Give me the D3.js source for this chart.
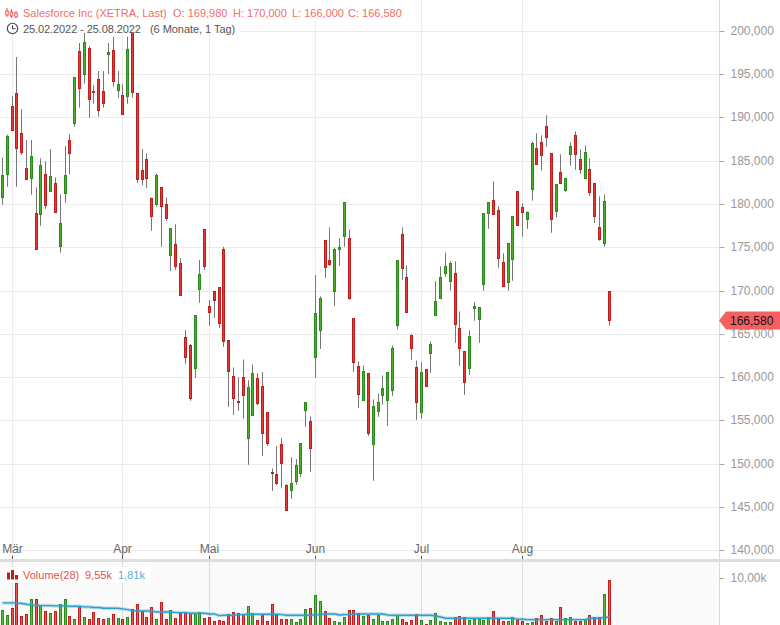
<!DOCTYPE html>
<html><head><meta charset="utf-8">
<script src="https://cdn.jsdelivr.net/npm/d3@7"></script>
<style>
html,body{margin:0;padding:0;background:#fff}
svg{display:block}
text{font-family:"Liberation Sans",Arial,sans-serif}
</style></head><body><svg id="c" width="780" height="625"></svg>
<script>
const open=[180.82,183.48,191.34,192.85,188.22,184.17,182.98,178.97,178.85,183.48,181.51,182.44,175.11,181.28,187.41,189.34,197.70,195.04,198.05,193.08,194.47,193.08,197.36,197.82,193.19,192.61,192.50,199.86,192.85,183.94,185.21,180.70,179.97,181.98,180.01,174.07,175.38,173.19,164.63,163.71,161.05,170.14,177.12,168.22,169.95,170.41,174.81,164.28,160.12,157.23,160.01,152.91,155.56,159.89,158.96,155.96,149.05,148.79,152.26,147.51,146.94,147.93,148.90,156.19,154.92,162.32,165.44,175.85,173.54,169.95,174.81,176.31,176.08,166.83,161.28,157.35,160.47,152.26,156.07,157.92,157.35,158.50,166.02,176.54,171.57,164.86,161.16,155.96,160.93,162.74,167.18,169.14,171.99,171.11,172.03,165.67,163.01,161.05,167.99,166.71,170.76,178.97,180.48,179.32,173.30,170.99,173.65,181.52,179.67,178.28,181.75,186.49,187.18,189.03,185.91,179.20,183.71,181.59,185.80,187.99,185.22,183.02,184.06,182.44,177.35,175.50,169.98];
const high=[185.44,188.07,192.54,197.05,191.03,187.45,187.45,181.98,185.33,184.98,186.41,183.13,181.17,186.75,188.10,194.70,198.67,200.17,198.32,193.81,195.43,195.43,198.67,199.40,195.43,193.89,199.40,199.86,192.85,186.41,185.91,180.82,183.59,181.98,180.82,177.23,177.73,173.80,165.48,163.86,167.18,173.57,177.12,168.94,169.95,170.41,175.11,164.28,161.16,160.01,162.09,159.69,161.51,160.50,160.62,155.96,149.48,152.06,152.99,147.67,150.79,150.56,152.37,157.11,155.50,171.84,169.37,175.85,177.35,175.04,176.08,180.24,177.12,166.83,161.86,161.39,160.47,157.46,158.15,160.24,160.58,163.71,173.54,177.35,172.96,164.98,161.97,161.74,160.93,164.17,171.14,172.84,174.46,173.42,173.42,167.64,163.01,165.44,168.71,168.10,178.97,180.24,182.67,179.78,174.35,175.50,178.62,181.52,180.13,179.20,187.30,188.22,187.99,190.31,185.91,182.33,185.80,183.02,187.18,188.46,186.37,186.84,185.33,182.44,180.94,181.17,170.00];
const low=[179.97,182.05,188.50,182.05,185.75,182.82,181.13,174.80,177.54,179.51,181.51,179.08,174.42,180.20,183.48,188.99,191.19,193.96,190.03,191.65,190.15,191.19,195.08,193.62,192.34,190.38,191.65,192.34,182.48,182.24,181.90,176.96,179.74,175.11,178.12,172.34,172.45,169.47,161.58,157.30,159.96,168.63,172.45,165.97,166.90,165.74,163.54,156.61,155.68,156.14,155.22,149.90,155.56,156.80,150.94,152.10,146.89,147.59,147.24,144.62,145.97,147.59,148.51,154.29,149.09,159.96,163.31,171.52,172.91,168.29,172.91,175.11,168.98,160.65,156.49,157.35,153.25,148.05,155.45,156.84,154.41,157.88,165.56,171.29,167.52,162.04,155.10,155.22,158.96,160.54,167.18,169.14,171.64,170.02,164.01,161.35,157.99,160.31,166.55,164.01,170.02,177.19,178.86,172.68,170.53,170.02,171.18,177.58,176.27,177.19,180.43,184.64,183.90,186.67,176.73,178.51,182.44,181.47,184.48,184.01,183.55,183.02,181.01,177.88,175.80,175.11,166.00];
const close=[183.36,187.87,188.57,186.49,185.98,182.90,185.56,174.80,184.52,179.85,183.25,179.08,177.81,183.36,185.91,194.70,193.42,198.74,192.15,192.92,190.88,191.65,197.59,194.23,193.89,190.38,197.93,192.92,182.86,182.86,183.02,178.58,183.36,179.74,178.35,177.23,172.80,169.47,162.32,157.53,167.18,171.92,172.80,167.48,168.86,166.20,164.12,160.65,157.53,157.07,157.88,158.85,160.47,156.95,153.48,152.33,148.86,147.70,150.01,144.62,147.75,149.83,152.37,157.11,151.79,167.41,169.14,172.68,173.07,174.81,175.04,180.24,169.14,161.74,158.04,160.70,153.48,156.65,157.11,158.73,160.58,163.36,173.54,172.61,167.52,163.36,157.11,160.58,158.96,163.82,168.79,171.57,172.84,173.19,166.13,163.31,159.38,164.75,168.22,168.10,178.97,180.24,178.86,173.77,170.53,175.50,178.62,177.58,179.09,179.09,187.07,184.64,185.68,187.76,178.28,182.33,182.44,183.02,186.72,185.80,184.06,186.03,181.40,178.62,175.96,180.36,166.58];
const volume=[2.99,2.07,3.56,8.91,1.85,2.28,5.49,5.49,4.06,2.92,2.35,2.92,4.42,5.49,1.85,1.21,3.92,1.64,1.21,2.71,1.43,1.21,1.43,2.28,1.43,1.07,1.64,3.35,4.42,2.92,1.64,3.78,1.21,4.85,1.21,3.14,1.43,2.49,2.71,2.49,2.49,2.71,1.43,1.64,0.78,1.00,0.78,2.28,2.71,2.49,2.28,3.99,2.49,1.00,2.14,0.78,4.42,2.07,1.21,1.21,1.21,0.57,1.21,3.35,3.56,6.34,5.06,2.92,1.43,0.78,0.57,1.64,3.14,3.14,2.49,1.85,2.07,1.21,2.07,0.78,0.78,1.21,2.07,1.21,0.57,1.00,2.28,1.00,0.14,1.00,2.49,0.78,0.57,0.57,1.64,1.85,1.64,1.00,1.21,1.21,1.00,1.64,2.92,1.21,0.78,0.78,1.64,1.00,0.78,0.36,0.57,1.43,2.07,0.78,1.43,0.78,3.78,1.43,1.64,0.78,0.78,1.21,2.07,1.64,1.64,6.56,9.55];
const volumeAvg=[4.70,4.70,4.70,4.70,4.56,4.42,4.28,4.21,4.13,4.13,4.13,4.06,4.06,4.06,3.99,3.99,3.99,3.85,3.85,3.71,3.71,3.56,3.56,3.56,3.56,3.42,3.28,3.06,2.99,2.99,2.99,2.99,2.78,2.78,2.78,2.78,2.64,2.64,2.64,2.49,2.49,2.49,2.49,2.35,2.35,2.00,2.07,2.07,2.07,2.21,2.21,2.28,2.28,2.28,2.28,2.28,2.28,2.28,2.21,2.07,2.07,2.07,2.07,2.07,2.07,2.21,2.21,2.35,2.35,2.35,2.14,2.21,2.21,2.35,2.35,2.35,2.35,2.35,2.35,2.35,2.14,2.07,2.07,2.07,2.07,2.07,2.07,2.07,2.07,2.07,1.92,1.71,1.43,1.43,1.43,1.43,1.43,1.43,1.43,1.43,1.43,1.43,1.43,1.43,1.43,1.43,1.43,1.21,1.21,1.14,1.14,1.14,1.14,1.14,1.14,1.14,1.14,1.14,1.14,1.14,1.14,1.14,1.43,1.43,1.43,1.57,1.71];
const priceTicks=[140,145,150,155,160,165,170,175,180,185,190,195,200];
const priceTickLabels=["140,000","145,000","150,000","155,000","160,000","165,000","170,000","175,000","180,000","185,000","190,000","195,000","200,000"];
const monthIdx=[2,25,43,65,87,108];
const monthLabels=["Mär","Apr","Mai","Jun","Jul","Aug"];
const volTicks=[10];
const volTickLabels=["10,00k"];
const lastPrice=166.58, lastLabel="166,580";

const svg=d3.select("#c");
const W=780,H=625,axisX=719.5;
const x=d3.scaleLinear().domain([0,126]).range([2.45,609.14]);
const px=i=>Math.floor(x(i))+.5;
const y=d3.scaleLinear().domain([140,200]).range([550.5,31.5]);
const v=d3.scaleLinear().domain([0,10]).range([625,578]);
const snap=a=>Math.round(a-.5)+.5;
const RED="#e53935",REDS="#bf1e1e",GRN="#4caf28",GRNS="#2a8a1e",WICK="#777";

// main grid
svg.append("g").selectAll("line").data(priceTicks).join("line")
 .attr("x1",0).attr("x2",axisX).attr("y1",d=>snap(y(d))).attr("y2",d=>snap(y(d))).attr("stroke","#ececec");
svg.append("g").selectAll("line").data(monthIdx).join("line")
 .attr("x1",px).attr("x2",px).attr("y1",0).attr("y2",559).attr("stroke","#ececec");

// candles
const idx=d3.range(open.length);
svg.append("g").selectAll("line").data(idx).join("line")
 .attr("x1",px).attr("x2",px).attr("y1",i=>y(high[i])).attr("y2",i=>y(low[i])).attr("stroke",WICK);
svg.append("g").selectAll("rect").data(idx).join("rect")
 .attr("x",i=>px(i)-1).attr("width",2)
 .attr("y",i=>snap(y(Math.max(open[i],close[i]))))
 .attr("height",i=>Math.max(1,snap(y(Math.min(open[i],close[i])))-snap(y(Math.max(open[i],close[i])))))
 .attr("fill",i=>close[i]>=open[i]?GRN:RED).attr("stroke",i=>close[i]>=open[i]?GRNS:REDS);

// volume panel
svg.append("rect").attr("x",0).attr("y",561).attr("width",axisX).attr("height",64).attr("fill","#fafafa");
svg.append("rect").attr("x",0).attr("y",559).attr("width",W).attr("height",3).attr("fill","#dedede");
svg.append("g").selectAll("line").data(monthIdx).join("line")
 .attr("x1",px).attr("x2",px).attr("y1",562).attr("y2",625).attr("stroke","#dcdcdc");
svg.append("g").selectAll("rect").data(idx).join("rect")
 .attr("x",i=>px(i)-1).attr("width",2).attr("y",i=>snap(v(volume[i]))).attr("height",i=>627-snap(v(volume[i])))
 .attr("fill",i=>close[i]>=open[i]?"#5cc03a":"#f25555").attr("stroke",i=>close[i]>=open[i]?GRNS:REDS);
const ln=d3.line().x((d,i)=>x(i)).y(d=>v(d));
svg.append("path").attr("d",ln(volumeAvg)).attr("fill","none").attr("stroke","#2f9fcb").attr("stroke-opacity",.3).attr("stroke-width",3.5);
svg.append("path").attr("d",ln(volumeAvg)).attr("fill","none").attr("stroke","#2f9fcb").attr("stroke-width",1.4);

// axes
const ay=svg.append("g").attr("transform",`translate(${axisX},0)`).call(
 d3.axisRight(y).tickValues(priceTicks).tickSize(5).tickPadding(6).tickFormat((d,i)=>priceTickLabels[i]));
ay.selectAll("text").attr("font-size",12).attr("fill","#999").attr("font-family","Liberation Sans");
ay.select(".domain").attr("stroke","#dadada").attr("d",`M0,0V559`);
ay.selectAll(".tick line").attr("stroke","#aaa");
ay.selectAll(".tick").attr("transform",d=>`translate(0,${snap(y(d))})`);
const ax=svg.append("g").attr("transform","translate(0,556)").call(
 d3.axisBottom(x).tickValues(monthIdx).tickSize(3).tickFormat((d,i)=>monthLabels[i]));
ax.select(".domain").remove();
ax.selectAll(".tick").attr("transform",d=>`translate(${px(d)},0)`);
ax.selectAll(".tick line").attr("stroke","#555");
ax.selectAll("text").attr("y",-3).attr("dy",0).attr("font-size",12).attr("fill","#666").attr("font-family","Liberation Sans");
const av=svg.append("g").attr("transform",`translate(${axisX},0)`).call(
 d3.axisRight(v).tickValues(volTicks).tickSize(5).tickPadding(6).tickFormat((d,i)=>volTickLabels[i]));
av.selectAll("text").attr("font-size",12).attr("fill","#999").attr("font-family","Liberation Sans");
av.select(".domain").attr("stroke","#dadada").attr("d","M0,562V625");
av.selectAll(".tick line").attr("stroke","#aaa");

// last price tag
const ly=y(lastPrice);
svg.append("path").attr("d",d3.line()([[719,ly],[726,ly-9],[780,ly-9],[780,ly+9],[726,ly+9]])+"Z").attr("fill","#f56060");
svg.append("text").attr("x",730).attr("y",ly+4.5).attr("font-size",12).attr("fill","#111").text(lastLabel);

// header
svg.append("rect").attr("x",0).attr("y",0).attr("width",240).attr("height",33).attr("fill","#fff").attr("opacity",.88);
svg.append("rect").attr("x",240).attr("y",0).attr("width",165).attr("height",21).attr("fill","#fff").attr("opacity",.88);
const hdr=[["Salesforce Inc (XETRA, Last)",23],["O: 169,980",173],["H: 170,000",233],["L: 166,000",292],["C: 166,580",348]];
svg.append("g").selectAll("text").data(hdr).join("text").attr("x",d=>d[1]).attr("y",17).attr("font-size",11).attr("fill","#f26d6d").text(d=>d[0]);
svg.append("text").attr("x",23).attr("y",33).attr("font-size",11).attr("letter-spacing",-0.09).attr("fill","#555").text("25.02.2022 - 25.08.2022");
svg.append("text").attr("x",150).attr("y",33).attr("font-size",11).attr("letter-spacing",-0.05).attr("fill","#555").text("(6 Monate, 1 Tag)");
// header icon
const ic=svg.append("g").attr("stroke","#e55").attr("fill","none");
[[7,8,17,11,15],[11.5,9,18,12,16],[16,11,18,13,17]].forEach(a=>{
 ic.append("line").attr("x1",a[0]).attr("x2",a[0]).attr("y1",a[1]).attr("y2",a[2]);
 ic.append("rect").attr("x",a[0]-1.2).attr("y",a[3]).attr("width",2.4).attr("height",a[4]-a[3]).attr("fill","#fff");
});
const cl=svg.append("g").attr("stroke","#444").attr("fill","none").attr("stroke-width",1.1);
cl.append("circle").attr("cx",12.5).attr("cy",28.5).attr("r",5.2);
cl.append("path").attr("d","M12.5,25.2V28.7H15.5");

// volume legend
svg.append("rect").attr("x",5).attr("y",567).attr("width",146).attr("height",16).attr("fill","#fff");
const vi=svg.append("g").attr("fill","#b8211f");
[[7,572.5,3,7],[11,570,3,9.5],[15,575,3,4.5]].forEach(a=>vi.append("rect").attr("x",a[0]).attr("y",a[1]).attr("width",a[2]).attr("height",a[3]));
[["Volume(28)",23,"#d9534f"],["9,55k",85,"#d9534f"],["1,81k",118,"#4fb0dc"]].forEach(d=>
 svg.append("text").attr("x",d[1]).attr("y",579).attr("font-size",11).attr("fill",d[2]).text(d[0]));
</script></body></html>
